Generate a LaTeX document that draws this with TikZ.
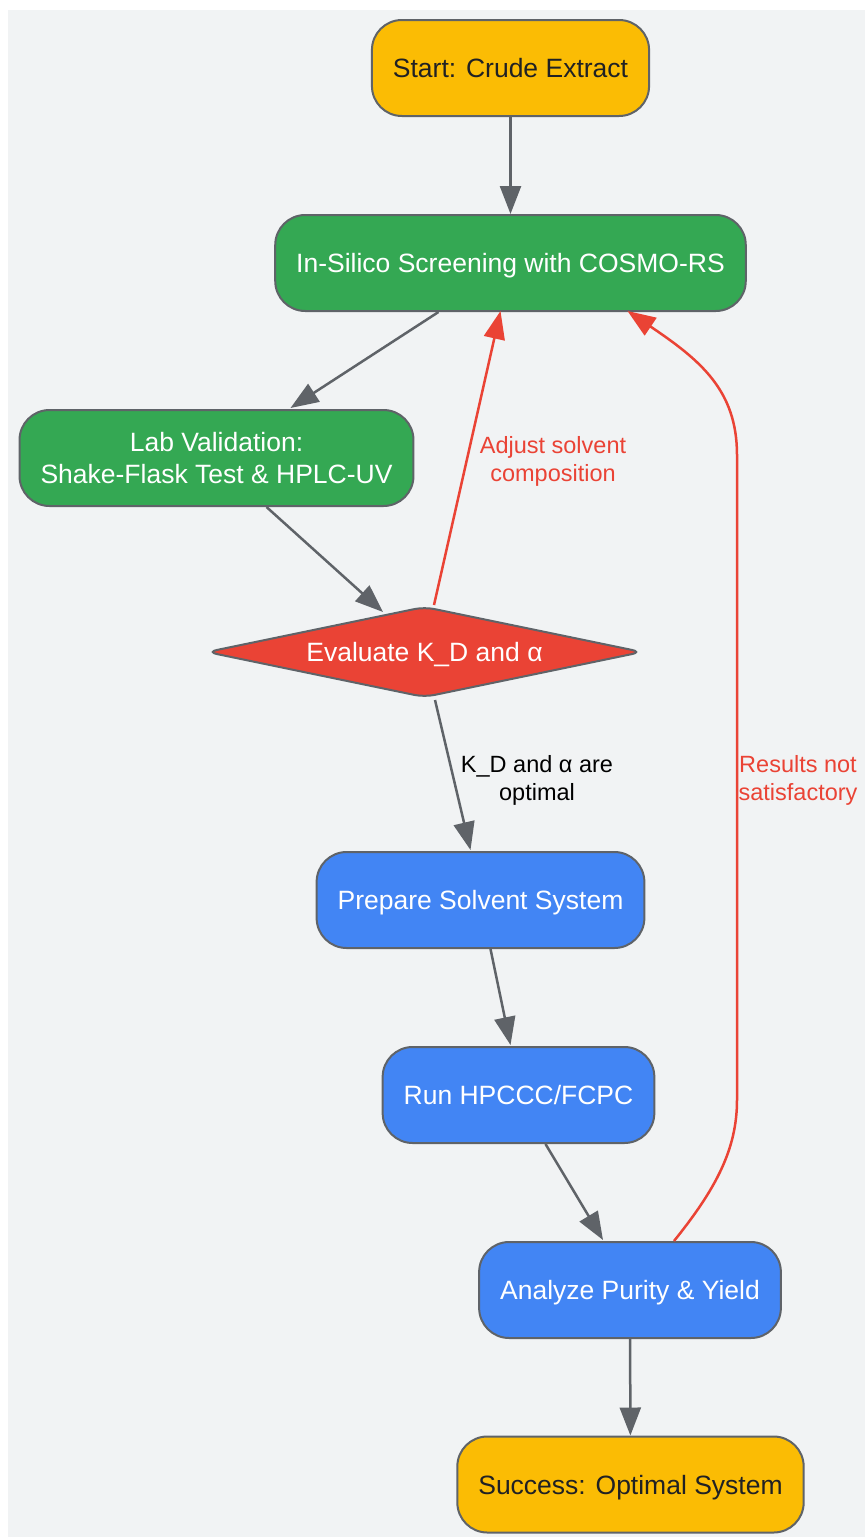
\documentclass[tikz,border=0pt]{standalone}
\usepackage{fontspec}
\setmainfont{Liberation Sans}
\usetikzlibrary{arrows.meta,calc}
\definecolor{bggray}{HTML}{F1F3F4}
\definecolor{edgegray}{HTML}{5F6368}
\definecolor{gyellow}{HTML}{FBBC04}
\definecolor{ggreen}{HTML}{34A853}
\definecolor{gred}{HTML}{EA4335}
\definecolor{gblue}{HTML}{4285F4}
\definecolor{darktext}{HTML}{202124}
\begin{document}
\begin{tikzpicture}[x=1pt,y=-1pt,
	box/.style={draw=edgegray,line width=2pt,rounded corners=30pt,minimum height=96pt,inner xsep=21pt,font=\fontsize{26.5}{32}\selectfont,align=center},
	oneline/.style={text height=19pt,text depth=0pt},
	term/.style={box,oneline,fill=gyellow,text=darktext},
	green/.style={box,fill=ggreen,text=white},
	blue/.style={box,oneline,fill=gblue,text=white},
	check/.style={oneline,text=white,font=\fontsize{26.5}{32}\selectfont},
	link/.style={draw=edgegray,line width=2.5pt,-{Triangle[length=28pt,width=21pt]}},
	back/.style={link,draw=gred},
	lbl/.style={font=\fontsize{23.5}{28}\selectfont,align=center}]
	\useasboundingbox (0,0) rectangle (865,1537);
	\fill[bggray] (8,10) rectangle (865,1537);
	% nodes
	\node[term] (start) at (510.5,68) {Start: Crude Extract};
	\node[green,oneline] (ins) at (510.5,263) {In-Silico Screening with COSMO-RS};
	\node[green] (lab) at (216.5,458) {Lab Validation:\\Shake-Flask Test \& HPLC-UV};
	\draw[edgegray,line width=2pt,fill=gred,rounded corners=10pt] (207,652) -- (424.5,607) -- (642,652) -- (424.5,697) -- cycle;
	\node[check] (eval) at (424.5,652) {Evaluate K\_D and α};
	\node[blue] (prep) at (480.5,900) {Prepare Solvent System};
	\node[blue] (run) at (518.5,1095) {Run HPCCC/FCPC};
	\node[blue] (ana) at (630,1290) {Analyze Purity \& Yield};
	\node[term] (succ) at (630.5,1484.5) {Success: Optimal System};
	% edges
	\draw[link] (start) -- (ins);
	\draw[link] ($(ins.south)+(-72,0)$) -- ($(lab.north)+(74,-1)$);
	\draw[link] ($(lab.south)+(50,0)$) -- ($(eval)+(-41.5,-40)$);
	\draw[back] ($(eval)+(9.5,-47)$) -- ($(ins.south)+(-10,-1)$);
	\draw[link] ($(eval)+(10.5,48)$) -- ($(prep.north)+(-10,-1)$);
	\draw[link] ($(prep.south)+(10,0)$) -- ($(run.north)+(-8,-1)$);
	\draw[link] ($(run.south)+(27,0)$) -- ($(ana.north)+(-27,-1)$);
	\draw[link] (ana) -- (succ);
	\draw[back] ($(ana.north)+(44,0)$) .. controls (715,1190) and (737,1150) .. (737,1100)
		-- (737,455) .. controls (737,390) and (700,360) .. ($(ins.south)+(117,-1)$);
	% edge labels
	\node[lbl,text=gred] (adj) at (553,461) {Adjust solvent\\composition};
	\node[lbl,text=black] (opt) at (537,780) {K\_D and α are\\optimal};
	\node[lbl,text=gred] (res) at (798,780) {Results not\\satisfactory};
\end{tikzpicture}
\end{document}
